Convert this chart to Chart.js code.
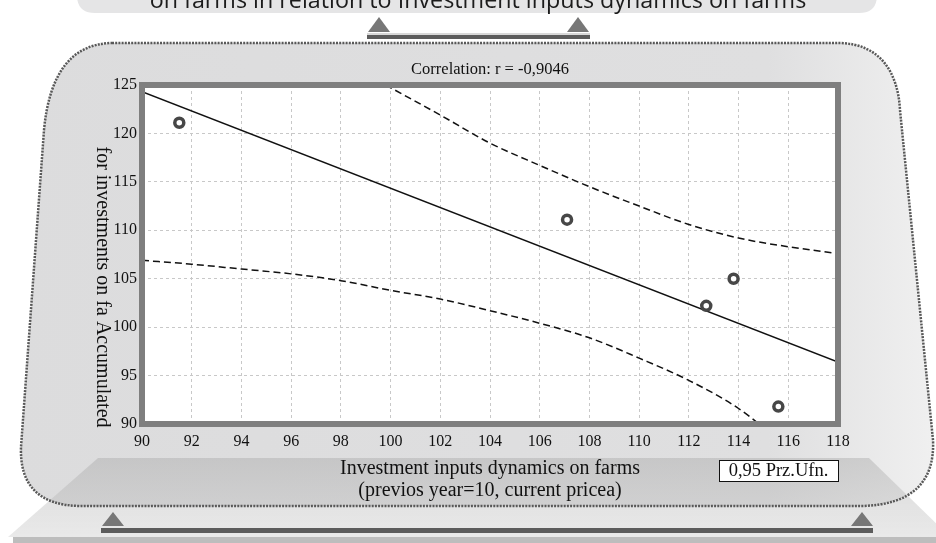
<!DOCTYPE html>
<html>
<head>
<meta charset="utf-8">
<script src="https://cdn.jsdelivr.net/npm/chart.js@4"></script>
<style>
  html, body { margin: 0; padding: 0; background: #fff; }
  #wrap { width: 936px; height: 543px; }
</style>
</head>
<body>
<div id="wrap"><canvas id="chart" width="936" height="543"></canvas></div>
<script>
// data
const pointX = [91.5, 107.1, 112.7, 113.8, 115.6];
const pointY = [121.1, 111.1, 102.2, 105.0, 91.8];

// regression line
const fitX = [90, 118];
const fitY = [124.3, 96.4];

// 0,95 confidence band
const upperX = [99.8, 102, 104, 106, 108, 110, 112, 114, 116, 118];
const upperY = [125, 121.9, 119.0, 116.7, 114.5, 112.5, 110.6, 109.2, 108.3, 107.6];
const lowerX = [90, 92, 94, 96, 98, 100, 102, 104, 106, 108, 110, 112, 114, 116];
const lowerY = [106.9, 106.5, 106.0, 105.5, 104.8, 103.8, 102.9, 101.7, 100.4, 98.9, 96.8, 94.5, 91.6, 87.5];

// axes
const xRange = [90, 118];
const xStep = 2;
const yRange = [90, 125];
const yStep = 5;

const bannerText = "on farms in relation to Investment inputs dynamics on farms";
const titleText = "Correlation: r = -0,9046";
const yTitle = "for investments on fa Accumulated";
const xTitle = ["Investment inputs dynamics on farms", "(previos year=10, current pricea)"];
const bandLabel = "0,95 Prz.Ufn.";

const serif = '"Liberation Serif", "DejaVu Serif", serif';

function toXY(xs, ys) {
    return xs.map((x, i) => ({ x: x, y: ys[i] }));
}

function roundRect(ctx, x, y, w, h, r) {
    ctx.beginPath();
    ctx.moveTo(x + r, y);
    ctx.lineTo(x + w - r, y);
    ctx.quadraticCurveTo(x + w, y, x + w, y + r);
    ctx.lineTo(x + w, y + h - r);
    ctx.quadraticCurveTo(x + w, y + h, x + w - r, y + h);
    ctx.lineTo(x + r, y + h);
    ctx.quadraticCurveTo(x, y + h, x, y + h - r);
    ctx.lineTo(x, y + r);
    ctx.quadraticCurveTo(x, y, x + r, y);
    ctx.closePath();
}

function triangle(ctx, cx, base, apex, half) {
    ctx.beginPath();
    ctx.moveTo(cx - half, base);
    ctx.lineTo(cx, apex);
    ctx.lineTo(cx + half, base);
    ctx.closePath();
    ctx.fill();
}

function panelPath(ctx) {
    ctx.beginPath();
    ctx.moveTo(112, 43);
    ctx.lineTo(840, 43);
    ctx.bezierCurveTo(880, 44, 898, 72, 900, 110);
    ctx.lineTo(933, 440);
    ctx.quadraticCurveTo(936, 504, 862, 506);
    ctx.lineTo(80, 506);
    ctx.quadraticCurveTo(19, 505, 21, 447);
    ctx.lineTo(44, 130);
    ctx.quadraticCurveTo(52, 44, 112, 43);
    ctx.closePath();
}

// background decoration, plot frame and extra texts
const decor = {
    id: 'decor',
    beforeDraw(chart) {
        const ctx = chart.ctx;
        const a = chart.chartArea;
        ctx.save();

        // banner at the top
        ctx.fillStyle = '#e5e5e6';
        roundRect(ctx, 77, -30, 800, 43, 18);
        ctx.fill();
        ctx.fillStyle = '#1c1c1c';
        ctx.font = '23.3px "Open Sans", sans-serif';
        ctx.textAlign = 'center';
        ctx.textBaseline = 'alphabetic';
        ctx.fillText(bannerText, 478, 7.5);

        // small stand under banner
        ctx.fillStyle = '#d8d8d8';
        ctx.fillRect(367, 33, 223, 2);
        ctx.fillStyle = '#5c5c5c';
        ctx.fillRect(367, 35, 223, 4);
        ctx.fillStyle = '#777';
        triangle(ctx, 379, 32, 17, 11);
        triangle(ctx, 578, 32, 17, 11);

        // main panel
        const g = ctx.createLinearGradient(0, 0, 936, 0);
        g.addColorStop(0, '#dcdcdd');
        g.addColorStop(0.82, '#dfdfe0');
        g.addColorStop(1, '#f0f0f0');
        ctx.fillStyle = g;
        panelPath(ctx);
        ctx.fill();

        // platform
        const pg = ctx.createLinearGradient(0, 458, 0, 537);
        pg.addColorStop(0, 'rgba(170,170,170,0.45)');
        pg.addColorStop(1, 'rgba(200,200,200,0.4)');
        ctx.fillStyle = pg;
        ctx.beginPath();
        ctx.moveTo(98, 458);
        ctx.lineTo(869, 458);
        ctx.lineTo(950, 537);
        ctx.lineTo(8, 537);
        ctx.closePath();
        ctx.fill();
        ctx.fillStyle = '#bdbdbd';
        ctx.fillRect(13, 537, 923, 6);

        // dotted panel border
        ctx.strokeStyle = '#585858';
        ctx.lineWidth = 2.5;
        ctx.setLineDash([2, 1.2]);
        panelPath(ctx);
        ctx.stroke();
        ctx.setLineDash([]);

        // stand at the bottom
        ctx.fillStyle = '#5c5c5c';
        ctx.fillRect(101, 528, 772, 5);
        ctx.fillStyle = '#777';
        triangle(ctx, 113, 526, 512, 11);
        triangle(ctx, 862, 526, 512, 11);

        // plot background
        ctx.fillStyle = '#ffffff';
        ctx.fillRect(a.left, a.top, a.right - a.left, a.bottom - a.top);
        ctx.restore();
    },
    afterDatasetsDraw(chart) {
        const ctx = chart.ctx;
        const a = chart.chartArea;
        ctx.save();
        ctx.strokeStyle = '#7f7f7f';
        ctx.lineWidth = 6;
        ctx.strokeRect(a.left, a.top, a.right - a.left, a.bottom - a.top);
        ctx.restore();
    },
    afterDraw(chart) {
        const ctx = chart.ctx;
        const a = chart.chartArea;
        ctx.save();
        ctx.fillStyle = '#111';
        ctx.textAlign = 'center';
        ctx.textBaseline = 'middle';

        // title
        ctx.font = '16.5px ' + serif;
        ctx.fillText(titleText, (a.left + a.right) / 2, 70);

        // y title, reading top to bottom
        ctx.font = '20px ' + serif;
        ctx.translate(102, 287);
        ctx.rotate(Math.PI / 2);
        ctx.fillText(yTitle, 0, 0);
        ctx.setTransform(1, 0, 0, 1, 0, 0);

        // confidence band label box
        ctx.fillStyle = '#fff';
        ctx.fillRect(719, 460, 119, 21);
        ctx.strokeStyle = '#111';
        ctx.lineWidth = 1;
        ctx.strokeRect(719.5, 460.5, 119, 21);
        ctx.fillStyle = '#111';
        ctx.font = '18.5px ' + serif;
        ctx.fillText(bandLabel, 778.5, 471);
        ctx.restore();
    }
};

const ctx = document.getElementById('chart').getContext('2d');
const chart = new Chart(ctx, {
    type: 'scatter',
    data: {
        datasets: [
            {
                label: 'points',
                data: toXY(pointX, pointY),
                pointRadius: 4.5,
                pointBorderWidth: 3.5,
                pointBorderColor: '#474747',
                pointBackgroundColor: '#ffffff',
                showLine: false
            },
            {
                label: 'fit',
                data: toXY(fitX, fitY),
                showLine: true,
                borderColor: '#111',
                borderWidth: 1.5,
                pointRadius: 0
            },
            {
                label: 'upper',
                data: toXY(upperX, upperY),
                showLine: true,
                borderColor: '#111',
                borderWidth: 1.5,
                borderDash: [7, 4],
                cubicInterpolationMode: 'monotone',
                pointRadius: 0
            },
            {
                label: 'lower',
                data: toXY(lowerX, lowerY),
                showLine: true,
                borderColor: '#111',
                borderWidth: 1.5,
                borderDash: [7, 4],
                cubicInterpolationMode: 'monotone',
                pointRadius: 0
            }
        ]
    },
    options: {
        responsive: false,
        animation: false,
        layout: { padding: { left: 0, top: 85, right: 98, bottom: 41 } },
        plugins: {
            legend: { display: false },
            tooltip: { enabled: false },
            title: { display: false }
        },
        scales: {
            x: {
                type: 'linear',
                min: xRange[0],
                max: xRange[1],
                afterFit: function (scale) { scale.height = 78; },
                ticks: {
                    stepSize: xStep,
                    padding: 8,
                    color: '#111',
                    maxRotation: 0,
                    font: { family: serif, size: 16 }
                },
                grid: { color: '#c8c8c8', lineWidth: 1, drawTicks: false },
                border: { display: false, dash: [3, 3] },
                title: {
                    display: true,
                    text: xTitle,
                    color: '#111',
                    padding: 0,
                    font: { family: serif, size: 20, lineHeight: 1.1 }
                }
            },
            y: {
                type: 'linear',
                min: yRange[0],
                max: yRange[1],
                afterFit: function (scale) { scale.width = 142; },
                ticks: {
                    stepSize: yStep,
                    padding: 5,
                    color: '#111',
                    font: { family: serif, size: 16 }
                },
                grid: { color: '#c8c8c8', lineWidth: 1, drawTicks: false },
                border: { display: false, dash: [3, 3] }
            }
        }
    },
    plugins: [decor]
});
</script>
</body>
</html>
